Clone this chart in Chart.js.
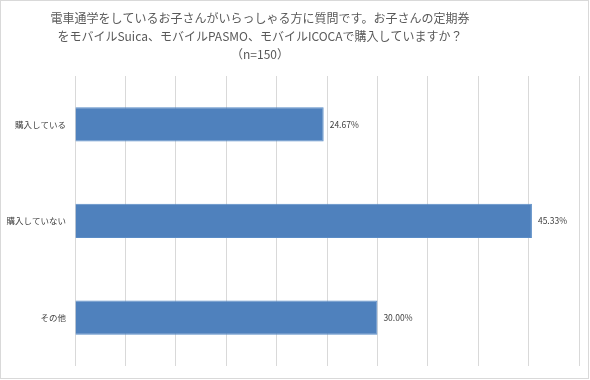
<!DOCTYPE html>
<html>
<head>
<meta charset="utf-8">
<script src="https://cdn.jsdelivr.net/npm/chart.js@4/dist/chart.umd.min.js"></script>
<style>
  html, body { margin: 0; padding: 0; background: #ffffff; }
  #wrap { width: 590px; height: 380px; position: relative; }
</style>
</head>
<body>
<div id="wrap"><canvas id="c" width="590" height="380"></canvas></div>
<script>
const titleLines = [
  "電車通学をしているお子さんがいらっしゃる方に質問です。お子さんの定期券",
  "をモバイルSuica、モバイルPASMO、モバイルICOCAで購入していますか？",
  "（n=150）"
];
const categories = ["購入している", "購入していない", "その他"];
const values = [24.67, 45.33, 30.00];
const axisMin = 0;
const axisMax = 50;
const axisStep = 5;

const FONT = "'Noto Sans CJK JP', 'Noto Sans', sans-serif";

const borderPlugin = {
  id: 'outerBorder',
  beforeDraw(chart) {
    const ctx = chart.ctx;
    ctx.save();
    ctx.fillStyle = '#ffffff';
    ctx.fillRect(0, 0, chart.width, chart.height);
    ctx.restore();
  },
  afterDraw(chart) {
    const ctx = chart.ctx;
    ctx.save();
    ctx.strokeStyle = '#d9d9d9';
    ctx.lineWidth = 1;
    ctx.strokeRect(0.5, 0.5, chart.width - 2, chart.height - 2);
    ctx.font = "12px " + FONT;
    ctx.fillStyle = '#595959';
    ctx.textAlign = 'center';
    ctx.textBaseline = 'middle';
    const cx = 260;
    titleLines.forEach((line, i) => {
      ctx.fillText(line, cx, 18 + i * 18);
    });
    ctx.restore();
  }
};

const valueLabels = {
  id: 'valueLabels',
  afterDatasetsDraw(chart) {
    const ctx = chart.ctx;
    const meta = chart.getDatasetMeta(0);
    ctx.save();
    ctx.font = "8.5px " + FONT;
    ctx.fillStyle = '#404040';
    ctx.textAlign = 'left';
    ctx.textBaseline = 'middle';
    meta.data.forEach((bar, i) => {
      ctx.fillText(values[i].toFixed(2) + '%', bar.x + 6, bar.y);
    });
    ctx.restore();
  }
};

new Chart(document.getElementById('c'), {
  type: 'bar',
  data: {
    labels: categories,
    datasets: [{
      data: values,
      backgroundColor: '#4f81bd',
      borderColor: '#5a8cc6',
      borderWidth: 1,
      categoryPercentage: 1.0,
      barPercentage: 0.354
    }]
  },
  options: {
    indexAxis: 'y',
    responsive: false,
    animation: false,
    devicePixelRatio: 1,
    layout: { padding: { left: 0, right: 11, top: 76, bottom: 12 } },
    plugins: {
      legend: { display: false },
      tooltip: { enabled: false },
      title: { display: false }
    },
    scales: {
      x: {
        min: axisMin,
        max: axisMax,
        ticks: { display: false, stepSize: axisStep },
        grid: { color: '#d9d9d9', lineWidth: 1, drawTicks: false },
        border: { display: false }
      },
      y: {
        afterFit(scale) { scale.width = 75; },
        ticks: {
          color: '#404040',
          font: { family: FONT, size: 8.5 },
          padding: 9
        },
        grid: { display: false, drawTicks: false },
        border: { display: false }
      }
    }
  },
  plugins: [borderPlugin, valueLabels]
});
</script>
</body>
</html>
